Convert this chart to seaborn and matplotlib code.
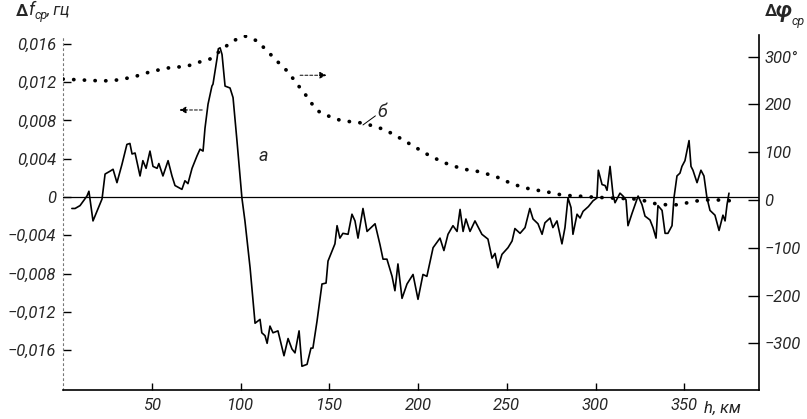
import numpy as np
import pandas as pd
import matplotlib
matplotlib.use("Agg")
import matplotlib.pyplot as plt
import seaborn as sns

# ---- data ----
h_a = [5, 6.8, 9.6, 13.5, 14.6, 16.9, 22, 23.7, 26.5, 28.2, 30.4, 33.2, 36, 37.7, 38.9, 40.6,
       43.4, 45, 46.8, 49, 50.7, 53, 54, 56.3, 59.2, 61.4, 63.1, 67, 68.7, 70.4, 72.7, 75.5,
       77.2, 78.9, 80, 81.7, 83.9, 84.5, 86.8, 87.5, 88.5, 89.6, 90.2, 91.3, 94.1, 95.8, 98,
       100.8, 102.5, 105.4, 108.2, 111, 112, 113.8, 115, 116.6, 118.3, 121.1, 124.5, 126.8,
       129, 130.7, 133, 134.6, 137.5, 139.7, 140.8, 143.1, 145.9, 148.2, 149.3, 153.2, 154.4,
       156, 157.7, 160.6, 162.8, 164.5, 166.2, 169, 171.3, 175.8, 178.6, 180.3, 182.5, 185.4,
       187, 188.7, 191, 193.8, 197.2, 200, 202.8, 205, 208.5, 212.4, 214.6, 216.9, 219.7, 222,
       223.7, 225.4, 227, 229.3, 232.1, 236, 239.4, 241.7, 243.4, 245, 247.3, 250.7, 253,
       254.6, 257.5, 260.3, 263, 264.8, 267.6, 269.9, 271.5, 274.4, 276, 278.3, 281.1, 282.8,
       284.5, 286.2, 287.3, 289.6, 291.3, 293, 296, 298.6, 300.8, 301.6, 303.7, 305.4, 306.5,
       308.2, 309.9, 311, 313.8, 315.5, 317.2, 318.3, 320.6, 322.3, 324, 326.2, 327.9, 330.7,
       332.4, 334.1, 335.2, 337.5, 339.2, 340.8, 343.1, 344.2, 345.9, 347.6, 348.7, 350.4,
       351.5, 352.7, 353.8, 354.9, 357.2, 359.4, 361.1, 362.8, 364.5, 367.3, 369.6, 371.8,
       373, 374.1, 375.2]
df_a = [-0.0012, -0.0012, -0.0009, 0.0001, 0.0006, -0.0025, -0.0002, 0.0024, 0.0027, 0.0029,
        0.0015, 0.0034, 0.0055, 0.0056, 0.0045, 0.0046, 0.0022, 0.0038, 0.0030, 0.0048, 0.0032,
        0.0030, 0.0035, 0.0022, 0.0038, 0.0022, 0.0012, 0.0008, 0.0017, 0.0014, 0.0030, 0.0043,
        0.0050, 0.0048, 0.0072, 0.0097, 0.0116, 0.0118, 0.0145, 0.0155, 0.0156, 0.0149, 0.0137,
        0.0116, 0.0114, 0.0104, 0.0059, -0.0001, -0.0025, -0.0074, -0.0132, -0.0128, -0.0142,
        -0.0145, -0.0153, -0.0135, -0.0142, -0.0140, -0.0166, -0.0148, -0.0159, -0.0163,
        -0.0140, -0.0177, -0.0175, -0.0158, -0.0158, -0.0130, -0.0091, -0.0090, -0.0067,
        -0.0049, -0.0030, -0.0043, -0.0038, -0.0039, -0.0018, -0.0025, -0.0043, -0.0012,
        -0.0036, -0.0028, -0.0050, -0.0065, -0.0065, -0.0083, -0.0098, -0.0070, -0.0106,
        -0.0091, -0.0081, -0.0107, -0.0081, -0.0083, -0.0053, -0.0043, -0.0056, -0.0039,
        -0.0030, -0.0036, -0.0013, -0.0036, -0.0023, -0.0036, -0.0025, -0.0039, -0.0044,
        -0.0064, -0.0059, -0.0074, -0.0060, -0.0053, -0.0046, -0.0033, -0.0038, -0.0032,
        -0.0012, -0.0023, -0.0028, -0.0039, -0.0027, -0.0022, -0.0032, -0.0025, -0.0049,
        -0.0032, -0.0001, -0.0011, -0.0039, -0.0018, -0.0022, -0.0015, -0.0010, -0.0004,
        -0.0001, 0.0028, 0.0013, 0.0012, 0.0007, 0.0032, 0.0002, -0.0006, 0.0004, 0.0001,
        -0.0003, -0.0030, -0.0017, -0.0008, 0.0001, -0.0008, -0.0020, -0.0024, -0.0032,
        -0.0043, -0.0009, -0.0014, -0.0038, -0.0038, -0.0030, -0.0001, 0.0022, 0.0025, 0.0032,
        0.0038, 0.0048, 0.0059, 0.0032, 0.0028, 0.0015, 0.0028, 0.0022, -0.0001, -0.0014,
        -0.0019, -0.0035, -0.0019, -0.0025, -0.0008, 0.0004]

h_b = [0, 11, 22.5, 30.4, 39.4, 49, 58.6, 69.9, 77.2, 82.8, 88.5, 95.8, 102.5, 109.3, 115.5,
       121, 126.8, 131.8, 136.3, 140.3, 143.7, 149.3, 156, 163.4, 169, 174.6, 179.7, 186,
       195.5, 205, 214, 225, 235, 244.5, 253.5, 263, 272.7, 281.7, 291, 298.6, 310, 323, 328,
       334, 340, 346, 351.5, 357, 363, 370, 377.5]
dphi_b = [253, 251, 249, 251, 257, 268, 276, 280, 289, 295, 312, 333, 343, 333, 310, 289, 268,
          243, 222, 201, 186, 176, 167, 163, 161, 155, 149, 138, 117, 96, 79, 65, 59, 48, 33,
          23, 17, 10, 8, 6, 4, 2, -2, -8, -10, -10, -6, -2, 0, 0, -2]

x_ticks = [50, 100, 150, 200, 250, 300, 350]
left_ticks = [0.016, 0.012, 0.008, 0.004, 0, -0.004, -0.008, -0.012, -0.016]
left_labels = ["0,016", "0,012", "0,008", "0,004", "0", "\u22120,004", "\u22120,008",
               "\u22120,012", "\u22120,016"]
right_ticks = [300, 200, 100, 0, -100, -200, -300]
right_labels = ["300°", "200", "100", "0", "\u2212100", "\u2212200", "\u2212300"]

# ---- style ----
sns.set_theme(style="white")
FAM = ["Roboto", "DejaVu Sans"]
plt.rcParams["font.family"] = FAM

W, H = 807, 419
fig = plt.figure(figsize=(W / 100, H / 100), dpi=100)
L, R, T, B = 63, 759, 35, 390
ax = fig.add_axes([L / W, 1 - B / H, (R - L) / W, (B - T) / H])
ax2 = ax.twinx()

# left axis: zero at 197 px, 38.25 px per 0.004
ppu_l = 38.25 / 0.004
ax.set_ylim(-(B - 197) / ppu_l, (197 - T) / ppu_l)
# right axis: zero at 200 px, 0.478 px per degree
ppu_r = 0.478
ax2.set_ylim(-(B - 200) / ppu_r, (200 - T) / ppu_r)
ax.set_xlim(0, (R - L) / 1.775)

ax.axhline(0, color="black", lw=0.9, zorder=1)

sns.lineplot(x=h_a, y=df_a, ax=ax, color="black", lw=1.2, estimator=None)
sns.lineplot(x=h_b, y=dphi_b, ax=ax2, color="black", lw=2.7, estimator=None,
             linestyle=(0, (0.05, 2.8)), dash_capstyle="round")

# spines
for a in (ax, ax2):
    a.spines["top"].set_visible(False)
ax.spines["right"].set_visible(False)
ax2.spines["left"].set_visible(False)
ax2.spines["bottom"].set_visible(False)
ax.spines["left"].set_color("#777777")
ax.spines["left"].set_linewidth(0.8)
ax.spines["left"].set_linestyle((0, (1.5, 3)))
ax.spines["bottom"].set_color("black")
ax.spines["bottom"].set_linewidth(1.2)
ax2.spines["right"].set_color("black")
ax2.spines["right"].set_linewidth(1.2)

tick_font = dict(family=FAM, style="italic", size=12)
ax.set_xticks(x_ticks)
ax.set_xticklabels([str(v) for v in x_ticks], **tick_font)
ax.set_yticks(left_ticks)
ax.set_yticklabels(left_labels, **tick_font)
ax2.set_yticks(right_ticks)
ax2.set_yticklabels(right_labels, **tick_font)

ax.tick_params(axis="x", direction="in", length=5, width=1, color="black", pad=6, bottom=True)
ax.tick_params(axis="y", direction="in", length=6, width=1, color="black", pad=5, left=True)
ax2.tick_params(axis="y", direction="in", length=8, width=1, color="black", pad=4, right=True)
ax.grid(False)
ax2.grid(False)
ax.set_xlabel("")
ax.set_ylabel("")
ax2.set_ylabel("")

# axis titles (composed pieces)
fig.text(16 / W, 1 - 11 / H, "\u0394", fontsize=12, weight="bold", family=FAM, va="center")
fig.text(29 / W, 1 - 10 / H, "f", fontsize=13, style="italic", family=FAM, va="center")
fig.text(35 / W, 1 - 15 / H, "ср", fontsize=9, style="italic", family=FAM, va="center")
fig.text(47 / W, 1 - 10 / H, ", гц", fontsize=12, style="italic", family=FAM, va="center")

fig.text(765 / W, 1 - 11 / H, "\u0394", fontsize=12, weight="bold", family=FAM, va="center")
fig.text(776 / W, 1 - 11 / H, "\u03c6", fontsize=16, weight="bold", style="italic",
         family=FAM, va="center")
fig.text(792 / W, 1 - 22 / H, "ср", fontsize=9, style="italic", family=FAM, va="center")

fig.text(704 / W, 1 - 408 / H, "h, км", fontsize=12, style="italic", family=FAM, va="center")

# curve annotations
ax.text(110, 0.0043, "а", fontsize=13, style="italic", family=FAM, va="center")
ax2.text(177, 185, "б", fontsize=13, style="italic", family=FAM, va="center")
ax2.plot([169, 176], [157, 176], color="black", lw=0.7)

# direction arrows
ax.annotate("", xy=(64, 0.0091), xytext=(80, 0.0091),
            arrowprops=dict(arrowstyle="-|>", color="black", lw=0.7, linestyle=(0, (3, 2)),
                            mutation_scale=10))
ax2.annotate("", xy=(150, 261), xytext=(132, 261),
             arrowprops=dict(arrowstyle="-|>", color="black", lw=0.7, linestyle=(0, (3, 2)),
                             mutation_scale=10))

fig.savefig("out.png", dpi=100, facecolor="white")
